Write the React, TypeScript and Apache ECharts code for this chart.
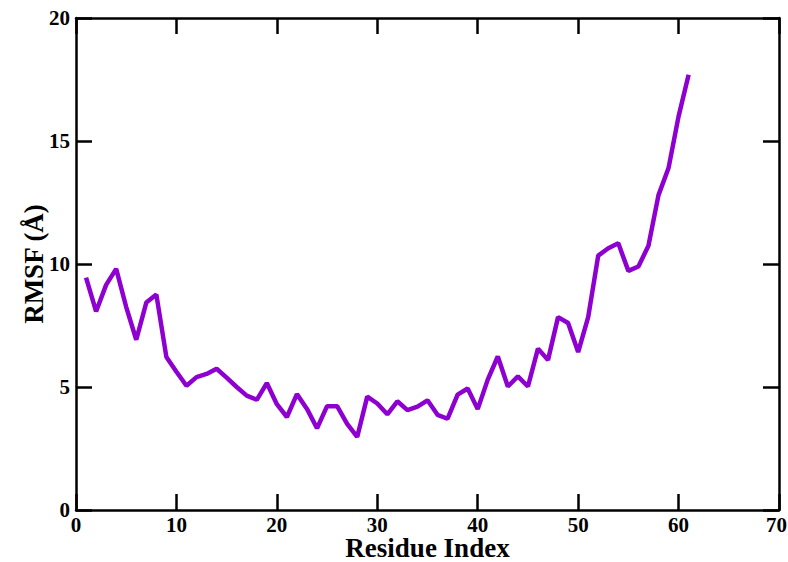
import React, { useEffect, useRef } from "react";
import * as echarts from "echarts";

const residues: number[] = Array.from({ length: 61 }, (_, i) => i + 1);
const rmsf: number[] = [
  9.45, 8.07, 9.15, 9.8, 8.25, 6.92, 8.43, 8.76, 6.22, 5.62,
  5.05, 5.4, 5.53, 5.74, 5.38, 5.0, 4.65, 4.48, 5.16, 4.3,
  3.78, 4.71, 4.11, 3.32, 4.22, 4.22, 3.5, 2.97, 4.61, 4.33,
  3.89, 4.42, 4.06, 4.2, 4.46, 3.87, 3.71, 4.69, 4.94, 4.1,
  5.3, 6.24, 5.02, 5.43, 5.02, 6.56, 6.1, 7.84, 7.6, 6.42,
  7.84, 10.34, 10.64, 10.84, 9.72, 9.9, 10.74, 12.8, 13.9, 16.0, 17.69,
];
const xTicks = { min: 0, max: 70, interval: 10 };
const yTicks = { min: 0, max: 20, interval: 5 };

const FONT = "'Liberation Serif', 'Times New Roman', serif";

export default function App() {
  const ref = useRef<HTMLDivElement>(null);
  useEffect(() => {
    if (!ref.current) return;
    document.body.style.margin = "0";
    document.body.style.overflow = "hidden";
    const chart = echarts.init(ref.current, undefined, { renderer: "svg" });
    const axisLine = { show: true, onZero: false, lineStyle: { color: "#000", width: 2.5 } };
    const axisTick = { show: true, inside: true, length: 16, lineStyle: { color: "#000", width: 2.5 } };
    const label = { color: "#000", fontFamily: FONT, fontWeight: "bold" as const, fontSize: 21, lineHeight: 20 };
    const nameStyle = { color: "#000", fontFamily: FONT, fontWeight: "bold" as const, fontSize: 27 };
    chart.setOption({
      animation: false,
      backgroundColor: "#fff",
      grid: { left: 76, right: 9, top: 18, bottom: 52, containLabel: false, outerBoundsMode: "none" },
      xAxis: [
        {
          type: "value",
          position: "bottom",
          ...xTicks,
          axisLine,
          axisTick,
          splitLine: { show: false },
          axisLabel: {
            ...label,
            margin: 5,
            formatter: (v: number) => (v === xTicks.max ? `{m|${v}}` : `${v}`),
            rich: { m: { ...label, width: 26, align: "left" } },
          },
          name: "Residue Index",
          nameLocation: "middle",
          nameGap: 25,
          nameMoveOverlap: false,
          nameTextStyle: { ...nameStyle, lineHeight: 26 },
        },
        {
          type: "value",
          position: "top",
          ...xTicks,
          axisLine,
          axisTick,
          splitLine: { show: false },
          axisLabel: { show: false },
        },
      ],
      yAxis: [
        {
          type: "value",
          position: "left",
          ...yTicks,
          axisLine,
          axisTick,
          splitLine: { show: false },
          axisLabel: { ...label, margin: 6 },
          name: "RMSF (Å)",
          nameLocation: "middle",
          nameGap: 29,
          nameMoveOverlap: false,
          nameTextStyle: nameStyle,
        },
        {
          type: "value",
          position: "right",
          ...yTicks,
          axisLine,
          axisTick,
          splitLine: { show: false },
          axisLabel: { show: false },
        },
      ],
      series: [
        {
          type: "line",
          data: residues.map((r, i) => [r, rmsf[i]]),
          showSymbol: false,
          lineStyle: { color: "#8E00D0", width: 4.5 },
          itemStyle: { color: "#8E00D0" },
          xAxisIndex: 0,
          yAxisIndex: 0,
        },
      ],
    });
    return () => chart.dispose();
  }, []);
  return (
    <div
      ref={ref}
      style={{ position: "absolute", left: 0, top: 0, width: 788, height: 562 }}
    />
  );
}
